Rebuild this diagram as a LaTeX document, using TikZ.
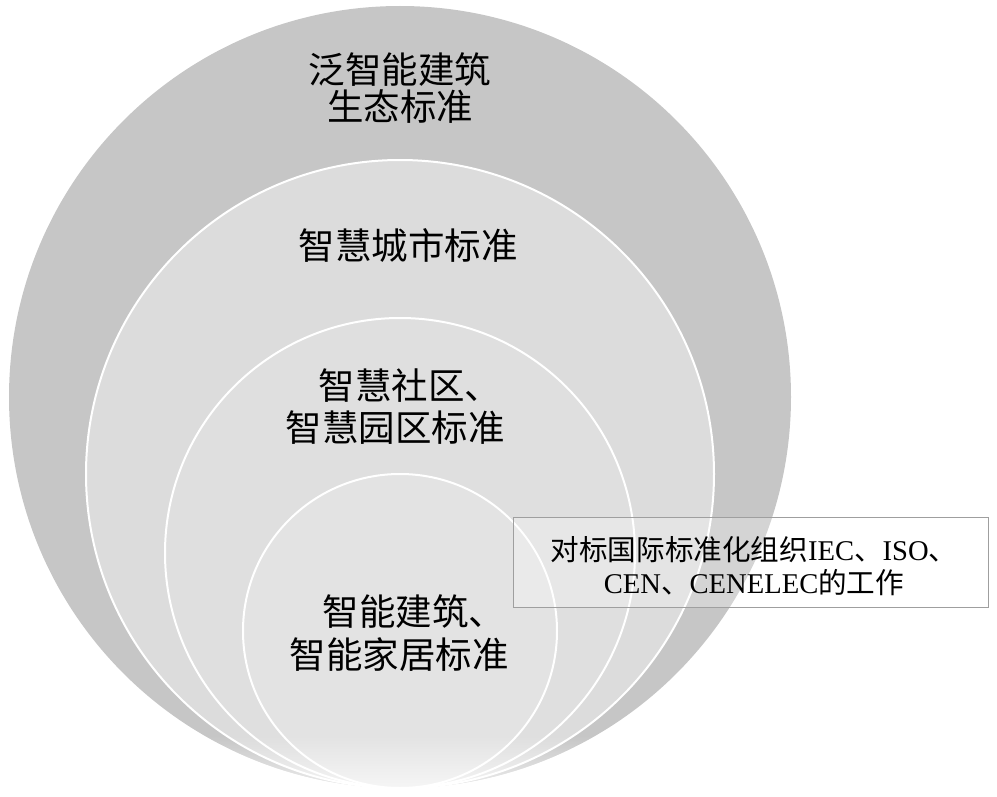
\documentclass[tikz,border=0pt]{standalone}
\usepackage{fontspec}
\usetikzlibrary{fadings}
\setmainfont{Liberation Serif}
\newfontfamily\cjk{Noto Sans CJK SC}
\begin{document}
\begin{tikzpicture}[x=1pt,y=-1pt,
  ring/.style={draw=white,line width=2pt},
  big/.style={inner sep=0pt,anchor=center,font=\cjk\fontsize{36.5}{42}\selectfont},
  note/.style={inner sep=0pt,align=center,font=\fontsize{28.6}{33}\selectfont}]
\useasboundingbox (0,0) rectangle (997,797);
\definecolor{c1}{HTML}{C6C6C6}
\definecolor{c2}{HTML}{DCDCDC}
\definecolor{c3}{HTML}{DFDFDF}
\definecolor{c4}{HTML}{E3E3E3}
\fill[c1] (400,397) circle[radius=391pt];
\path[ring,fill=c2] (400,474) circle[radius=314pt];
\path[ring,fill=c3] (400,553) circle[radius=235pt];
\path[ring,fill=c4] (400,631) circle[radius=157pt];
\begin{scope}
  \clip (400,397) circle[radius=391pt];
  \fill[white,opacity=0.7,path fading=north] (0,735) rectangle (800,790);
\end{scope}
\node[big] (l1a) at (400,70) {泛智能建筑};
\node[big] (l1b) at (400,107) {生态标准};
\node[big] (l2) at (408,246) {智慧城市标准};
\node[big] (l3a) at (410,386) {智慧社区、};
\node[big] (l3b) at (395,428) {智慧园区标准};
\node[big] (l4a) at (414,612) {智能建筑、};
\node[big] (l4b) at (399,655) {智能家居标准};
\node[draw=gray!75,fill=white,fill opacity=0.25,text opacity=1,line width=0.8pt,
  minimum width=475pt,minimum height=90pt,inner sep=0pt] (box) at (750.5,562) {};
\node[note] (txt) at (754,566) {{\cjk 对标国际标准化组织}IEC{\cjk 、}ISO{\cjk 、}\\CEN{\cjk 、}CENELEC{\cjk 的工作}};
\end{tikzpicture}
\end{document}
